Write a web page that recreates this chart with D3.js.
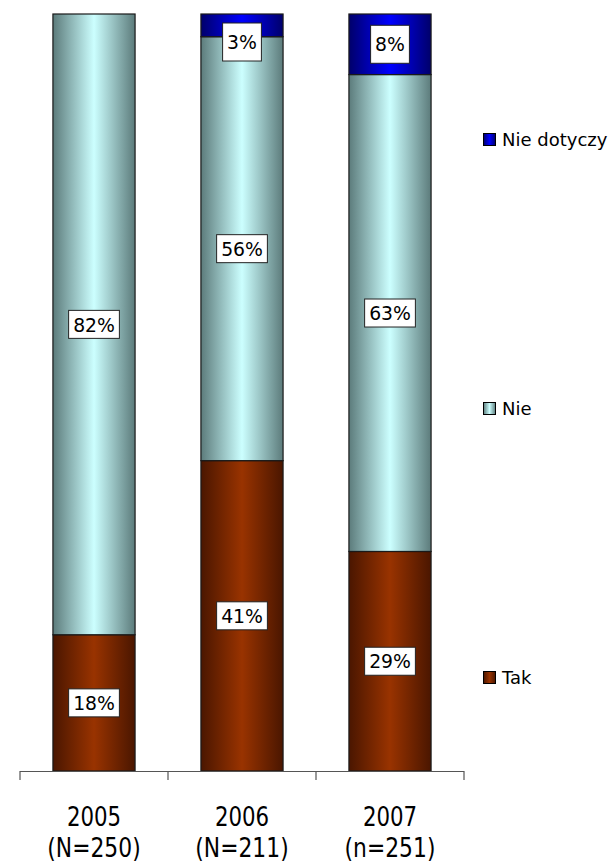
<!DOCTYPE html>
<html>
<head>
<meta charset="utf-8">
<script src="https://cdn.jsdelivr.net/npm/d3@7"></script>
<style>
  html, body { margin: 0; padding: 0; background: #fff; }
  svg { display: block; font-family: "DejaVu Sans", Verdana, sans-serif; }
</style>
</head>
<body>
<svg id="chart" width="608" height="867"></svg>
<script>
// Survey answers per year (percent of respondents)
const categories = ["2005", "2006", "2007"];
const sampleLabels = ["(N=250)", "(N=211)", "(n=251)"];
const seriesNames = ["Tak", "Nie", "Nie dotyczy"];
const tak = [18, 41, 29];
const nie = [82, 56, 63];
const nieDotyczy = [0, 3, 8];

const seriesValues = [tak, nie, nieDotyczy];
const rows = categories.map((c, i) => {
  const r = { category: c };
  seriesNames.forEach((s, k) => { r[s] = seriesValues[k][i]; });
  return r;
});

const svg = d3.select("#chart");
const plot = { left: 20, right: 464, top: 14, bottom: 771 };

const x = d3.scaleBand().domain(categories).range([plot.left, plot.right]).padding(0);
const y = d3.scaleLinear().domain([0, 100]).range([plot.bottom, plot.top]);
const barW = x.bandwidth() * 0.555;

// Horizontal "cylinder" shading for each series
const shades = {
  "Tak": ["#4a1600", "#993300"],
  "Nie": ["#5c7b7b", "#ccffff"],
  "Nie dotyczy": ["#00006a", "#0000ff"]
};
const defs = svg.append("defs");
seriesNames.forEach((s, k) => {
  const g = defs.append("linearGradient").attr("id", "grad" + k)
    .attr("x1", "0%").attr("x2", "100%").attr("y1", "0%").attr("y2", "0%");
  g.append("stop").attr("offset", "0%").attr("stop-color", shades[s][0]);
  g.append("stop").attr("offset", "50%").attr("stop-color", shades[s][1]);
  g.append("stop").attr("offset", "100%").attr("stop-color", shades[s][0]);
});

const stacked = d3.stack().keys(seriesNames)(rows);

// Bars
const layers = svg.append("g").selectAll("g").data(stacked).join("g")
  .attr("fill", (d, k) => `url(#grad${k})`);
layers.selectAll("rect").data(d => d.filter(p => p[1] > p[0])).join("rect")
  .attr("x", p => x(p.data.category) + (x.bandwidth() - barW) / 2)
  .attr("width", barW)
  .attr("y", p => y(p[1]))
  .attr("height", p => y(p[0]) - y(p[1]))
  .attr("stroke", "#1a1a1a")
  .attr("stroke-width", 1.2);

// Axis: baseline with ticks at band edges
const axis = svg.append("g").attr("stroke", "#555").attr("stroke-width", 1.2);
axis.append("line")
  .attr("x1", plot.left).attr("x2", plot.right)
  .attr("y1", y(0) + 0.5).attr("y2", y(0) + 0.5);
const edges = categories.map(c => x(c)).concat([x(categories[categories.length - 1]) + x.bandwidth()]);
axis.selectAll("line.tick").data(edges).join("line").attr("class", "tick")
  .attr("x1", d => d).attr("x2", d => d)
  .attr("y1", y(0)).attr("y2", y(0) + 9);

// Category labels (two lines)
const catG = svg.append("g").attr("fill", "#000").attr("font-size", 26).attr("text-anchor", "middle");
categories.forEach((c, i) => {
  const cx = x(c) + x.bandwidth() / 2;
  catG.append("text")
    .attr("transform", `translate(${cx},826) scale(0.82,1)`)
    .text(c);
  catG.append("text")
    .attr("transform", `translate(${cx},857) scale(0.84,1)`)
    .text(sampleLabels[i]);
});

// Value labels in white boxes
const labelG = svg.append("g");
stacked.forEach((layer, k) => {
  layer.forEach(p => {
    const v = p[1] - p[0];
    if (v <= 0) return;
    const cx = x(p.data.category) + x.bandwidth() / 2;
    const small = v < 10;
    const boxH = small ? 38 : 28;
    let cy = (y(p[0]) + y(p[1])) / 2;
    cy = Math.max(cy, plot.top + 9 + boxH / 2);
    const g = labelG.append("g").attr("transform", `translate(${cx},${cy})`);
    const t = g.append("text")
      .attr("text-anchor", "middle")
      .attr("font-size", 20)
      .attr("dy", "0.36em")
      .attr("transform", "scale(0.94,1)")
      .text(v + "%");
    const w = t.node().getComputedTextLength() * 0.94 + 9;
    g.insert("rect", "text")
      .attr("x", -w / 2).attr("y", -boxH / 2)
      .attr("width", w).attr("height", boxH)
      .attr("fill", "#fff").attr("stroke", "#222").attr("stroke-width", 1);
  });
});

// Legend, top to bottom: reverse of stacking order
const legendItems = seriesNames.map((s, k) => ({ name: s, k })).reverse();
const legendTop = 139.5, legendStep = 269;
const leg = svg.append("g");
legendItems.forEach((it, i) => {
  const cy = legendTop + i * legendStep;
  leg.append("rect")
    .attr("x", 483.5).attr("y", cy - 6)
    .attr("width", 12).attr("height", 12)
    .attr("fill", `url(#grad${it.k})`)
    .attr("stroke", "#000").attr("stroke-width", 1);
  leg.append("text")
    .attr("x", 502).attr("y", cy)
    .attr("dy", "0.36em")
    .attr("font-size", 18)
    .attr("fill", "#000")
    .text(it.name);
});
</script>
</body>
</html>
